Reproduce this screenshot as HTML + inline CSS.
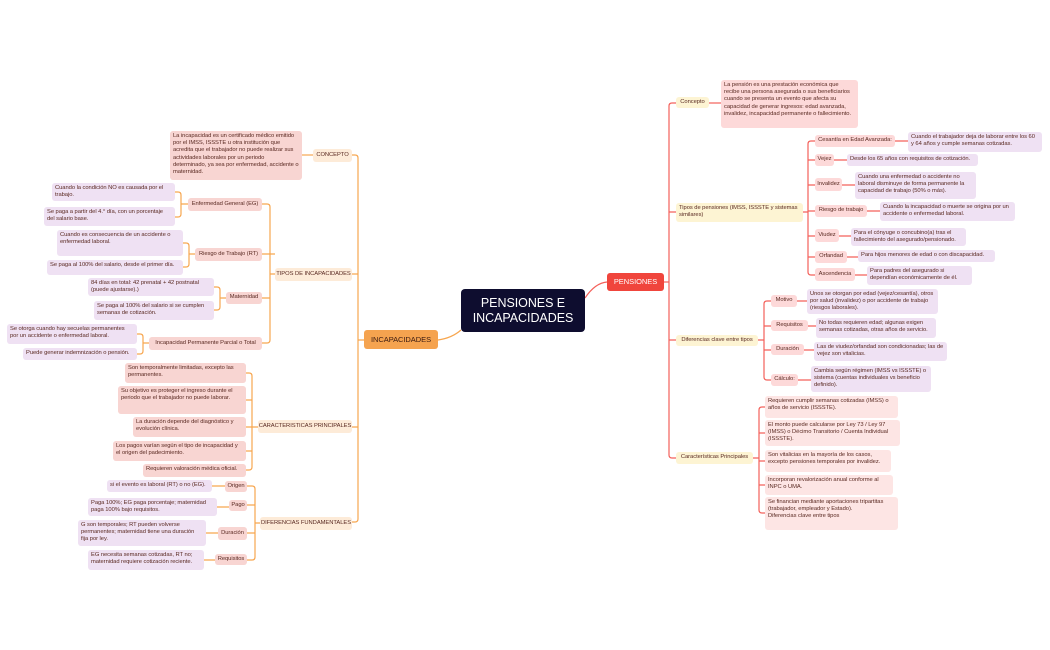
<!DOCTYPE html>
<html><head><meta charset="utf-8"><style>
*{margin:0;padding:0;box-sizing:border-box}
body{width:1050px;height:650px;background:#fff;position:relative;overflow:hidden;font-family:"Liberation Sans",sans-serif;color:#5a2a22}
.n{position:absolute;font-size:5.8px;line-height:7.2px;padding:2px 3px;border-radius:3px;white-space:normal;letter-spacing:-0.05px}
.c{display:flex;align-items:center;justify-content:center;text-align:center;white-space:nowrap;padding:0 1px}
.pk{background:#f8d5d2}
.pu{background:#efe1f3}
.pe{background:#fdebd8}
.ye{background:#fdf4d3}
.rp{background:#fdd9d9}
.lp{background:#fde5e4}
svg{position:absolute;left:0;top:0}
</style></head><body>
<svg width="1050" height="650" fill="none" stroke-width="1.2">
<g stroke="#f7a64f">
<path d="M438 340 Q452 338 461 330"/>
<path d="M438 340 H358"/>
<path d="M352 155 H355 Q358 155 358 158 V519 Q358 522 355 522 H352"/>
<path d="M352 274 H358 M352 427 H358"/>
<path d="M302 155 H313"/>
<path d="M262 204 H267 Q270 204 270 207 V340 Q270 343 267 343 H262 M262 254 H275 M262 298 H270 M270 274 H275"/>
<path d="M175 192 H178 Q181 192 181 195 V214 Q181 217 178 217 H175 M181 204 H188"/>
<path d="M183 243 H186 Q189 243 189 246 V264 Q189 267 186 267 H183 M189 254 H195"/>
<path d="M214 287 H217 Q220 287 220 290 V307 Q220 310 217 310 H214 M220 298 H226"/>
<path d="M137 334 H140 Q143 334 143 337 V351 Q143 354 140 354 H137 M143 343 H149"/>
<path d="M246 373 H249 Q252 373 252 376 V467 Q252 470 249 470 H246 M246 400 H252 M246 427 H258 M246 451 H252"/>
<path d="M247 486 H252 Q255 486 255 489 V557 Q255 560 252 560 H247 M247 505 H255 M247 533 H255 M255 523 H260"/>
<path d="M212 486 H225 M217 507 H229 M206 533 H218 M204 560 H215"/>
</g>
<g stroke="#f4605a">
<path d="M585 298 Q595 283 607 282"/>
<path d="M664 282 H669"/>
<path d="M676 103 H672 Q669 103 669 106 V455 Q669 458 672 458 H676 M669 212 H676 M669 340 H676"/>
<path d="M709 103 H721"/>
<path d="M803 212 H808 M815 141 H811 Q808 141 808 144 V272 Q808 275 811 275 H815 M808 160 H815 M808 185 H815 M808 211 H815 M808 236 H815 M808 257 H815"/>
<path d="M895 141 H908 M834 160 H847 M842 185 H855 M867 211 H880 M839 236 H851 M847 257 H858 M855 275 H867"/>
<path d="M758 340 H764 M771 301 H767 Q764 301 764 304 V377 Q764 380 767 380 H771 M764 326 H771 M764 350 H771"/>
<path d="M797 301 H807 M808 326 H816 M804 350 H814 M798 380 H811"/>
<path d="M753 458 H759 M765 407 H762 Q759 407 759 410 V510 Q759 513 762 513 H765 M759 433 H765 M759 461 H765 M759 485 H765"/>
</g>
</svg>

<div class="n c" style="left:461px;top:289px;width:124px;height:43px;background:#0e0d2f;color:#fff;font-size:12.5px;line-height:15px;white-space:normal;border-radius:4px">PENSIONES E INCAPACIDADES</div>
<div class="n c" style="left:607px;top:273px;width:57px;height:18px;background:#f0453c;color:#fff;font-size:7.5px">PENSIONES</div>
<div class="n c" style="left:364px;top:330px;width:74px;height:19px;background:#f5a34f;color:#3a1a10;font-size:7.5px">INCAPACIDADES</div>

<div class="n c pe" style="left:313px;top:149px;width:39px;height:13px">CONCEPTO</div>
<div class="n c pe" style="left:275px;top:268px;width:77px;height:13px">TIPOS DE INCAPACIDADES</div>
<div class="n c pe" style="left:258px;top:420px;width:94px;height:13px">CARACTERISTICAS PRINCIPALES</div>
<div class="n c pe" style="left:260px;top:517px;width:92px;height:13px">DIFERENCIAS FUNDAMENTALES</div>

<div class="n pk" style="left:170px;top:131px;width:132px;height:49px">La incapacidad es un certificado médico emitido por el IMSS, ISSSTE u otra institución que acredita que el trabajador no puede realizar sus actividades laborales por un periodo determinado, ya sea por enfermedad, accidente o maternidad.</div>

<div class="n c pk" style="left:188px;top:198px;width:74px;height:13px">Enfermedad General (EG)</div>
<div class="n pu" style="left:52px;top:183px;width:123px;height:18px">Cuando la condición NO es causada por el trabajo.</div>
<div class="n pu" style="left:44px;top:207px;width:131px;height:19px">Se paga a partir del 4.° día, con un porcentaje del salario base.</div>
<div class="n c pk" style="left:195px;top:248px;width:67px;height:13px">Riesgo de Trabajo (RT)</div>
<div class="n pu" style="left:57px;top:230px;width:126px;height:26px">Cuando es consecuencia de un accidente o enfermedad laboral.</div>
<div class="n pu" style="left:47px;top:260px;width:136px;height:15px;white-space:nowrap">Se paga al 100% del salario, desde el primer día.</div>
<div class="n c pk" style="left:226px;top:292px;width:36px;height:12px">Maternidad</div>
<div class="n pu" style="left:88px;top:278px;width:126px;height:18px">84 días en total: 42 prenatal + 42 postnatal (puede ajustarse).)</div>
<div class="n pu" style="left:94px;top:301px;width:120px;height:19px">Se paga al 100% del salario si se cumplen semanas de cotización.</div>
<div class="n c pk" style="left:149px;top:337px;width:113px;height:13px">Incapacidad Permanente Parcial o Total</div>
<div class="n pu" style="left:7px;top:324px;width:130px;height:20px">Se otorga cuando hay secuelas permanentes por un accidente o enfermedad laboral.</div>
<div class="n pu" style="left:23px;top:348px;width:114px;height:12px;white-space:nowrap">Puede generar indemnización o pensión.</div>

<div class="n pk" style="left:125px;top:363px;width:121px;height:20px">Son temporalmente limitadas, excepto las permanentes.</div>
<div class="n pk" style="left:118px;top:386px;width:128px;height:28px">Su objetivo es proteger el ingreso durante el periodo que el trabajador no puede laborar.</div>
<div class="n pk" style="left:133px;top:417px;width:113px;height:20px">La duración depende del diagnóstico y evolución clínica.</div>
<div class="n pk" style="left:113px;top:441px;width:133px;height:20px">Los pagos varían según el tipo de incapacidad y el origen del padecimiento.</div>
<div class="n pk" style="left:143px;top:464px;width:103px;height:13px;white-space:nowrap">Requieren valoración médica oficial.</div>

<div class="n c pk" style="left:225px;top:481px;width:22px;height:11px">Origen</div>
<div class="n c pk" style="left:229px;top:500px;width:18px;height:11px">Pago</div>
<div class="n c pk" style="left:218px;top:527px;width:29px;height:13px">Duración</div>
<div class="n c pk" style="left:215px;top:554px;width:32px;height:11px">Requisitos</div>
<div class="n pu" style="left:107px;top:480px;width:105px;height:12px;white-space:nowrap">si el evento es laboral (RT) o no (EG).</div>
<div class="n pu" style="left:88px;top:498px;width:129px;height:18px">Paga 100%; EG paga porcentaje; maternidad paga 100% bajo requisitos.</div>
<div class="n pu" style="left:78px;top:520px;width:128px;height:26px">G son temporales; RT pueden volverse permanentes; maternidad tiene una duración fija por ley.</div>
<div class="n pu" style="left:88px;top:550px;width:116px;height:20px">EG necesita semanas cotizadas, RT no; maternidad requiere cotización reciente.</div>

<div class="n c ye" style="left:676px;top:97px;width:33px;height:11px">Concepto</div>
<div class="n rp" style="left:721px;top:80px;width:137px;height:48px">La pensión es una prestación económica que recibe una persona asegurada o sus beneficiarios cuando se presenta un evento que afecta su capacidad de generar ingresos: edad avanzada, invalidez, incapacidad permanente o fallecimiento.</div>
<div class="n ye" style="left:676px;top:203px;width:127px;height:19px">Tipos de pensiones (IMSS, ISSSTE y sistemas similares)</div>

<div class="n c rp" style="left:815px;top:135px;width:80px;height:12px">Cesantía en Edad Avanzada:</div>
<div class="n c rp" style="left:815px;top:154px;width:19px;height:12px">Vejez</div>
<div class="n c rp" style="left:815px;top:178px;width:27px;height:13px">Invalidez</div>
<div class="n c rp" style="left:815px;top:205px;width:52px;height:12px">Riesgo de trabajo</div>
<div class="n c rp" style="left:815px;top:229px;width:24px;height:13px">Viudez</div>
<div class="n c rp" style="left:815px;top:251px;width:32px;height:12px">Orfandad</div>
<div class="n c rp" style="left:815px;top:268px;width:40px;height:13px">Ascendencia</div>
<div class="n pu" style="left:908px;top:132px;width:134px;height:20px">Cuando el trabajador deja de laborar entre los 60 y 64 años y cumple semanas cotizadas.</div>
<div class="n pu" style="left:847px;top:154px;width:131px;height:12px;white-space:nowrap">Desde los 65 años con requisitos de cotización.</div>
<div class="n pu" style="left:855px;top:172px;width:121px;height:27px">Cuando una enfermedad o accidente no laboral disminuye de forma permanente la capacidad de trabajo (50% o más).</div>
<div class="n pu" style="left:880px;top:202px;width:135px;height:19px">Cuando la incapacidad o muerte se origina por un accidente o enfermedad laboral.</div>
<div class="n pu" style="left:851px;top:228px;width:115px;height:18px">Para el cónyuge o concubino(a) tras el fallecimiento del asegurado/pensionado.</div>
<div class="n pu" style="left:858px;top:250px;width:137px;height:12px;white-space:nowrap">Para hijos menores de edad o con discapacidad.</div>
<div class="n pu" style="left:867px;top:266px;width:105px;height:19px">Para padres del asegurado si dependían económicamente de él.</div>

<div class="n c ye" style="left:676px;top:335px;width:82px;height:11px">Diferencias clave entre tipos</div>
<div class="n c rp" style="left:771px;top:295px;width:26px;height:12px">Motivo</div>
<div class="n c rp" style="left:771px;top:320px;width:37px;height:11px">Requisitos</div>
<div class="n c rp" style="left:771px;top:344px;width:33px;height:11px">Duración</div>
<div class="n c rp" style="left:771px;top:374px;width:27px;height:12px">Cálculo:</div>
<div class="n pu" style="left:807px;top:289px;width:131px;height:25px">Unos se otorgan por edad (vejez/cesantía), otros por salud (invalidez) o por accidente de trabajo (riesgos laborales).</div>
<div class="n pu" style="left:816px;top:318px;width:120px;height:20px">No todas requieren edad; algunas exigen semanas cotizadas, otras años de servicio.</div>
<div class="n pu" style="left:814px;top:342px;width:133px;height:19px">Las de viudez/orfandad son condicionadas; las de vejez son vitalicias.</div>
<div class="n pu" style="left:811px;top:366px;width:120px;height:26px">Cambia según régimen (IMSS vs ISSSTE) o sistema (cuentas individuales vs beneficio definido).</div>

<div class="n c ye" style="left:676px;top:452px;width:77px;height:12px">Características Principales</div>
<div class="n lp" style="left:765px;top:396px;width:133px;height:22px">Requieren cumplir semanas cotizadas (IMSS) o años de servicio (ISSSTE).</div>
<div class="n lp" style="left:765px;top:420px;width:135px;height:26px">El monto puede calcularse por Ley 73 / Ley 97 (IMSS) o Décimo Transitorio / Cuenta Individual (ISSSTE).</div>
<div class="n lp" style="left:765px;top:450px;width:126px;height:22px">Son vitalicias en la mayoría de los casos, excepto pensiones temporales por invalidez.</div>
<div class="n lp" style="left:765px;top:475px;width:128px;height:20px">Incorporan revalorización anual conforme al INPC o UMA.</div>
<div class="n lp" style="left:765px;top:497px;width:133px;height:33px">Se financian mediante aportaciones tripartitas (trabajador, empleador y Estado).<br>Diferencias clave entre tipos</div>
</body></html>
